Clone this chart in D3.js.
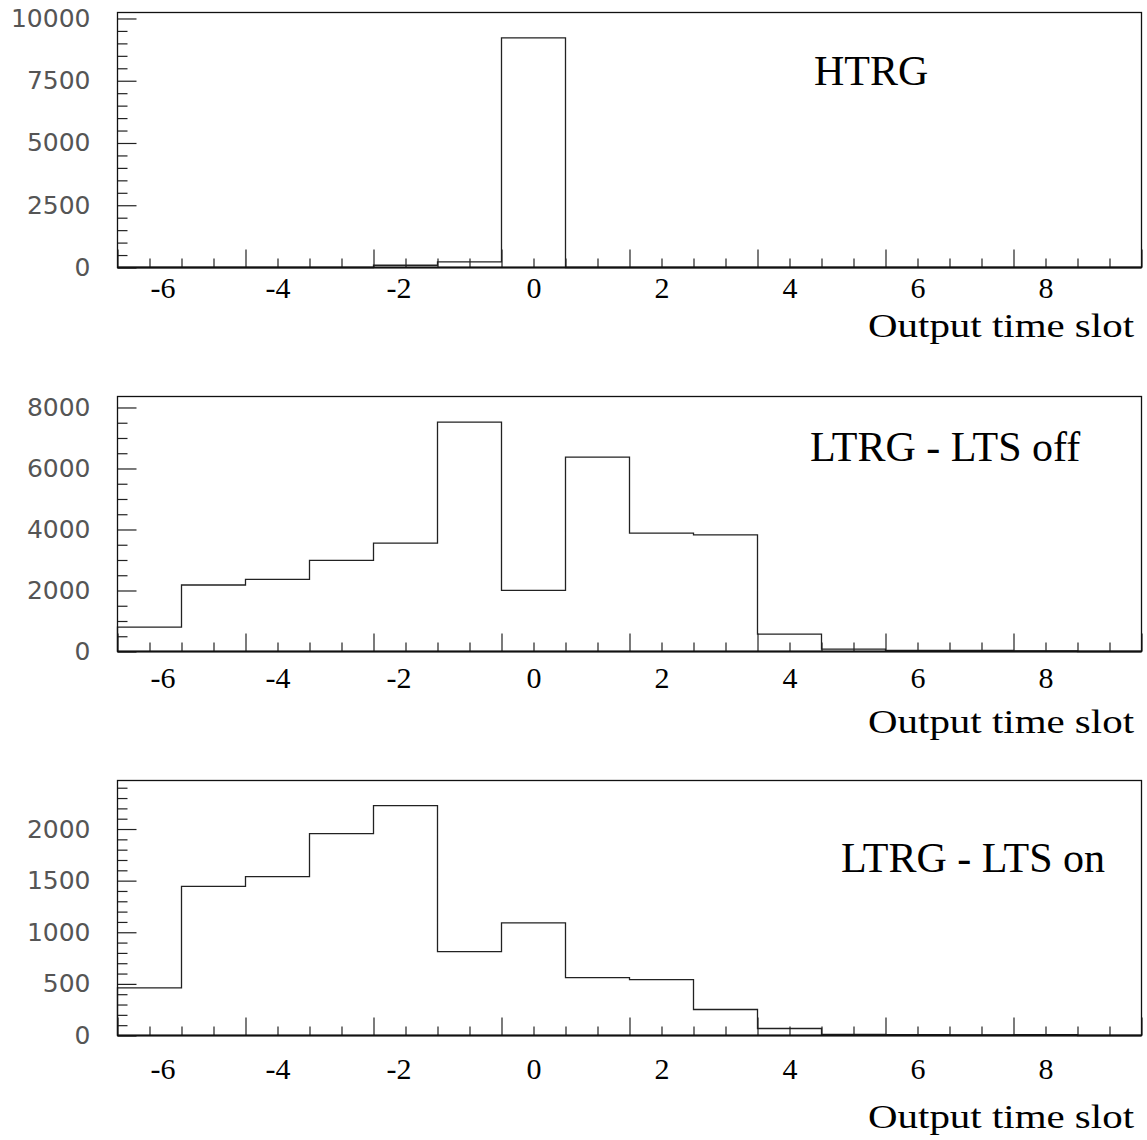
<!DOCTYPE html>
<html>
<head>
<meta charset="utf-8">
<script src="https://cdn.jsdelivr.net/npm/d3@7"></script>
<style>
  body { margin: 0; background: #fff; }
  .ylab text { font-family: "DejaVu Sans", sans-serif; font-size: 25px; fill: #555; }
  .xlab text { font-family: "Liberation Serif", "Times New Roman", serif; font-size: 30px; fill: #000; }
  .tick line { stroke: #222; stroke-width: 1.2; }
  .title { font-family: "Liberation Serif", "Times New Roman", serif; font-size: 42px; fill: #000; }
  .axtitle { font-family: "Liberation Serif", "Times New Roman", serif; font-size: 34px; fill: #000; }
</style>
</head>
<body>
<svg id="chart" width="1147" height="1140"></svg>
<script>
// ---- data ----
var slots  = [-6, -5, -4, -3, -2, -1, 0, 1, 2, 3, 4, 5, 6, 7, 8, 9];
var htrg   = [0, 0, 0, 0, 90, 225, 9220, 0, 0, 0, 0, 0, 0, 0, 0, 0];
var ltsOff = [798, 2180, 2366, 2987, 3553, 7519, 2007, 6375, 3880, 3825, 569, 80, 35, 35, 20, 0];
var ltsOn  = [461, 1445, 1539, 1955, 2226, 813, 1090, 561, 542, 252, 68, 10, 8, 6, 8, 0];

var titles   = ["HTRG", "LTRG - LTS off", "LTRG - LTS on"];
var yMax     = [10240, 8360, 2470];
var yMajor   = [[0, 2500, 5000, 7500, 10000], [0, 2000, 4000, 6000, 8000], [0, 500, 1000, 1500, 2000]];
var yMinStep = [500, 500, 100];
var xLabels  = [-6, -4, -2, 0, 2, 4, 6, 8];
var xLabel   = "Output time slot";

var series = [htrg, ltsOff, ltsOn];

// ---- layout ----
var svg = d3.select("#chart");
var left = 117.5, W = 1024, H = 255;
var tops = [12.5, 396.5, 780.5];
var titlePos = [[814, 72], [810, 64], [841, 91]];   // relative to panel top
var labPad = [9, 15, 22];
var axTitleDy = [69, 81, 92];
var labShift = {"-6": 13, "-2": -7};

var x = d3.scaleLinear().domain([-6.5, 9.5]).range([left, left + W]);

var xMajorT = d3.range(-6.5, 9.6, 2);
var xMinorT = d3.range(-6.5, 9.6, 0.5).filter(function(v){ return xMajorT.indexOf(v) < 0; });

series.forEach(function(vals, i){
	var top = tops[i];
	var g = svg.append("g");
	var y = d3.scaleLinear().domain([0, yMax[i]]).range([top + H, top]);

	// ==================== histogram ====================
	var pts = [{x: -6.5, v: 0}];
	slots.forEach(function(s, k){ pts.push({x: s - 0.5, v: vals[k]}); });
	pts.push({x: 9.5, v: vals[vals.length - 1]});
	pts.push({x: 9.5, v: 0});

	var line = d3.line()
		.x(function(d){ return x(d.x); })
		.y(function(d){ return y(d.v); })
		.curve(d3.curveStepAfter);

	g.append("path")
		.datum(pts)
		.attr("d", line)
		.attr("fill", "none")
		.attr("stroke", "#222")
		.attr("stroke-width", 1.3);

	// ==================== x axis ticks ====================
	var bot = top + H;
	g.append("g").attr("transform", "translate(0," + bot + ")")
		.call(d3.axisBottom(x).tickValues(xMinorT).tickSize(-9).tickFormat(""))
		.call(function(a){ a.select(".domain").remove(); });
	g.append("g").attr("transform", "translate(0," + bot + ")")
		.call(d3.axisBottom(x).tickValues(xMajorT).tickSize(-18).tickFormat(""))
		.call(function(a){ a.select(".domain").remove(); });

	var xl = g.append("g").attr("class", "xlab").attr("transform", "translate(0," + bot + ")")
		.call(d3.axisBottom(x).tickValues(xLabels).tickSize(0).tickPadding(labPad[i])
			.tickFormat(function(d){ return String(d); }));
	xl.select(".domain").remove();
	xl.selectAll("text").attr("dx", function(d){ return labShift[String(d)] || 0; });

	// ==================== y axis ticks ====================
	var yMinorT = d3.range(0, yMax[i], yMinStep[i]).filter(function(v){ return yMajor[i].indexOf(v) < 0; });
	g.append("g").attr("transform", "translate(" + left + ",0)")
		.call(d3.axisLeft(y).tickValues(yMinorT).tickSize(-10).tickFormat(""))
		.call(function(a){ a.select(".domain").remove(); });
	g.append("g").attr("class", "ylab").attr("transform", "translate(" + left + ",0)")
		.call(d3.axisLeft(y).tickValues(yMajor[i]).tickSize(-19).tickPadding(27)
			.tickFormat(function(d){ return String(d); }))
		.call(function(a){ a.select(".domain").remove(); });

	// ==================== frame ====================
	g.append("rect")
		.attr("x", left).attr("y", top)
		.attr("width", W).attr("height", H)
		.attr("fill", "none")
		.attr("stroke", "#111")
		.attr("stroke-width", 1.3);
	g.append("line")
		.attr("x1", left).attr("x2", left + W)
		.attr("y1", bot).attr("y2", bot)
		.attr("stroke", "#111")
		.attr("stroke-width", 2.2);

	// ==================== texts ====================
	g.append("text")
		.attr("class", "title")
		.attr("x", titlePos[i][0])
		.attr("y", top + titlePos[i][1])
		.text(titles[i]);

	g.append("text")
		.attr("class", "axtitle")
		.attr("x", 1134)
		.attr("y", bot + axTitleDy[i])
		.attr("text-anchor", "end")
		.attr("textLength", 266)
		.attr("lengthAdjust", "spacingAndGlyphs")
		.text(xLabel);
});
</script>
</body>
</html>
